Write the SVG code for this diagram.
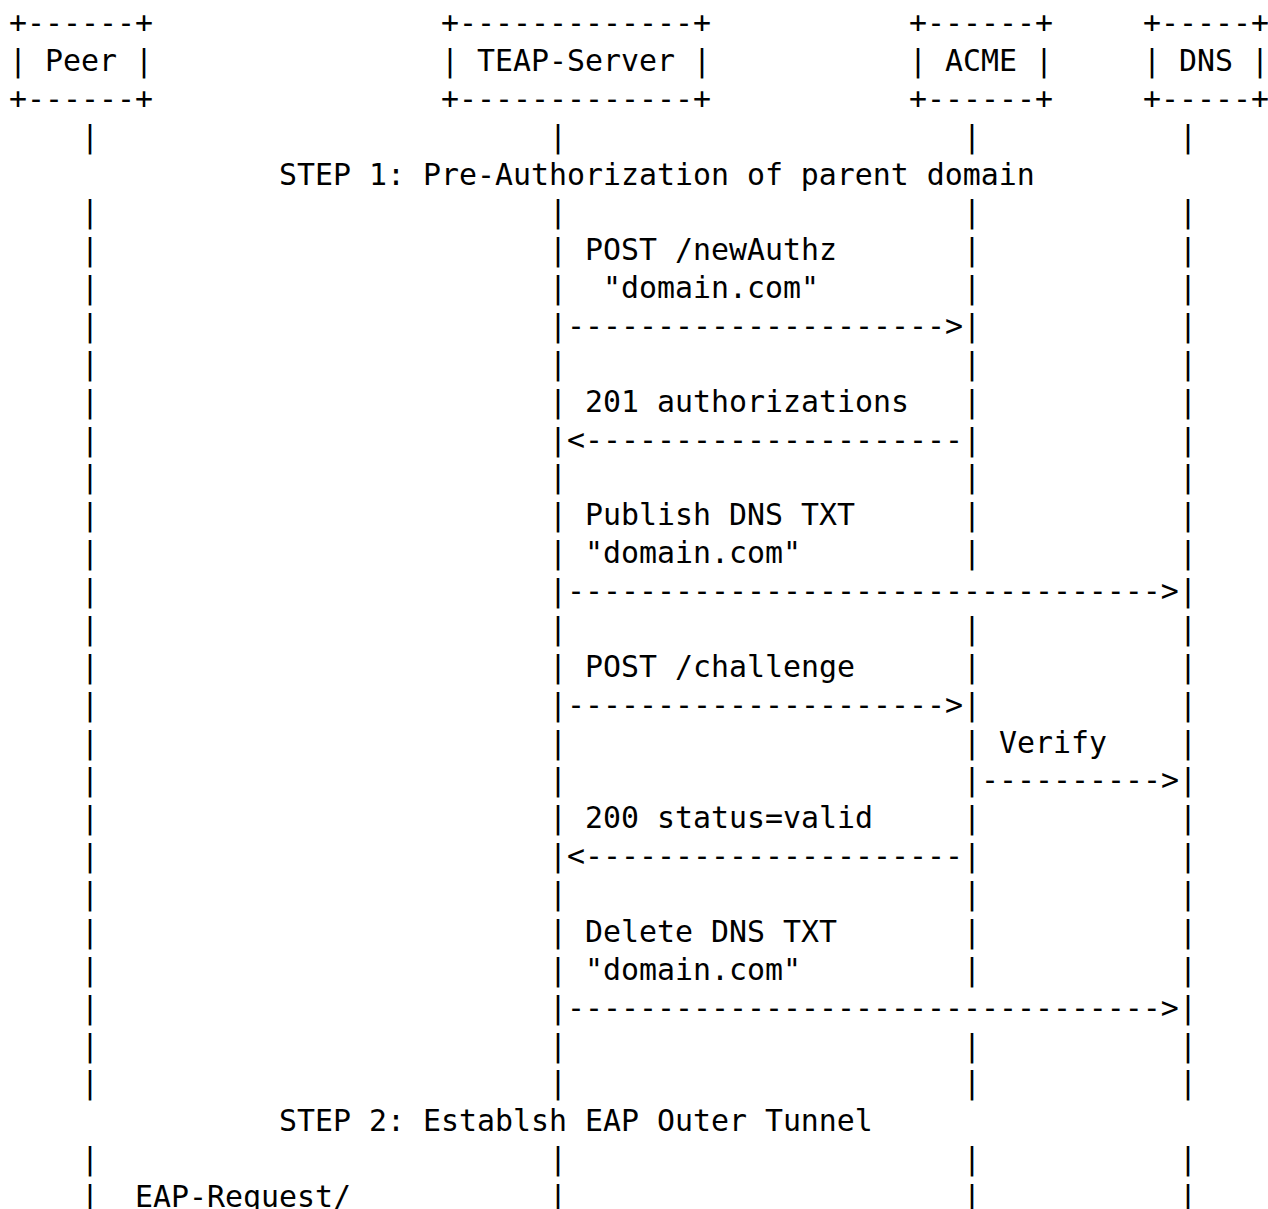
<svg xmlns="http://www.w3.org/2000/svg" width="1268" height="1209" viewBox="0 0 1268 1209">
  <style>
    /* monospace grid: 18px per column, 37.87px per row */
    text { font-family: "DejaVu Sans Mono", "Liberation Mono", monospace; font-size: 29.9px; fill: #000; }
  </style>
  <rect width="1268" height="1209" fill="#fff"/>

  <!-- participants -->
  <g id="peer">
    <text x="9" y="33">+------+</text>
    <text x="9" y="70.9">| Peer |</text>
    <text x="9" y="108.7">+------+</text>
  </g>
  <g id="teap-server">
    <text x="441" y="33">+-------------+</text>
    <text x="441" y="70.9">| TEAP-Server |</text>
    <text x="441" y="108.7">+-------------+</text>
  </g>
  <g id="acme">
    <text x="909" y="33">+------+</text>
    <text x="909" y="70.9">| ACME |</text>
    <text x="909" y="108.7">+------+</text>
  </g>
  <g id="dns">
    <text x="1143" y="33">+-----+</text>
    <text x="1143" y="70.9">| DNS |</text>
    <text x="1143" y="108.7">+-----+</text>
  </g>

  <!-- lifelines and messages -->
  <g id="connectors">
    <!-- Peer lifeline -->
    <text x="81 81 81 81 81 81 81 81 81 81 81 81 81 81 81 81 81 81 81 81 81 81 81 81 81 81 81" y="146.6 222.4 260.2 298.1 336 373.8 411.7 449.6 487.4 525.3 563.2 601.1 638.9 676.8 714.7 752.5 790.4 828.3 866.1 904 941.9 979.8 1017.6 1055.5 1093.4 1169.1 1207">|||||||||||||||||||||||||||</text>
    <!-- TEAP-Server lifeline -->
    <text x="549 549 549 549 549 549 549 549 549 549 549 549 549 549 549 549 549 549 549 549 549 549 549 549 549 549 549" y="146.6 222.4 260.2 298.1 336 373.8 411.7 449.6 487.4 525.3 563.2 601.1 638.9 676.8 714.7 752.5 790.4 828.3 866.1 904 941.9 979.8 1017.6 1055.5 1093.4 1169.1 1207">|||||||||||||||||||||||||||</text>
    <!-- ACME lifeline (crossed by the DNS TXT arrows) -->
    <text x="963 963 963 963 963 963 963 963 963 963 963 963 963 963 963 963 963 963 963 963 963 963 963 963 963" y="146.6 222.4 260.2 298.1 336 373.8 411.7 449.6 487.4 525.3 563.2 638.9 676.8 714.7 752.5 790.4 828.3 866.1 904 941.9 979.8 1055.5 1093.4 1169.1 1207">|||||||||||||||||||||||||</text>
    <!-- DNS lifeline -->
    <text x="1179 1179 1179 1179 1179 1179 1179 1179 1179 1179 1179 1179 1179 1179 1179 1179 1179 1179 1179 1179 1179 1179 1179 1179 1179 1179 1179" y="146.6 222.4 260.2 298.1 336 373.8 411.7 449.6 487.4 525.3 563.2 601.1 638.9 676.8 714.7 752.5 790.4 828.3 866.1 904 941.9 979.8 1017.6 1055.5 1093.4 1169.1 1207">|||||||||||||||||||||||||||</text>

    <!-- STEP 1 -->
    <text x="279" y="184.5">STEP 1: Pre-Authorization of parent domain</text>

    <text x="585" y="260.2">POST /newAuthz</text>
    <text x="603" y="298.1">"domain.com"</text>
    <text x="567" y="336">---------------------&gt;</text>

    <text x="585" y="411.7">201 authorizations</text>
    <text x="567" y="449.6">&lt;---------------------</text>

    <text x="585" y="525.3">Publish DNS TXT</text>
    <text x="585" y="563.2">"domain.com"</text>
    <text x="567" y="601.1">---------------------------------&gt;</text>

    <text x="585" y="676.8">POST /challenge</text>
    <text x="567" y="714.7">---------------------&gt;</text>

    <text x="999" y="752.5">Verify</text>
    <text x="981" y="790.4">----------&gt;</text>

    <text x="585" y="828.3">200 status=valid</text>
    <text x="567" y="866.1">&lt;---------------------</text>

    <text x="585" y="941.9">Delete DNS TXT</text>
    <text x="585" y="979.8">"domain.com"</text>
    <text x="567" y="1017.6">---------------------------------&gt;</text>

    <!-- STEP 2 -->
    <text x="279" y="1131.2">STEP 2: Establsh EAP Outer Tunnel</text>

    <text x="135" y="1207">EAP-Request/</text>
  </g>
</svg>
